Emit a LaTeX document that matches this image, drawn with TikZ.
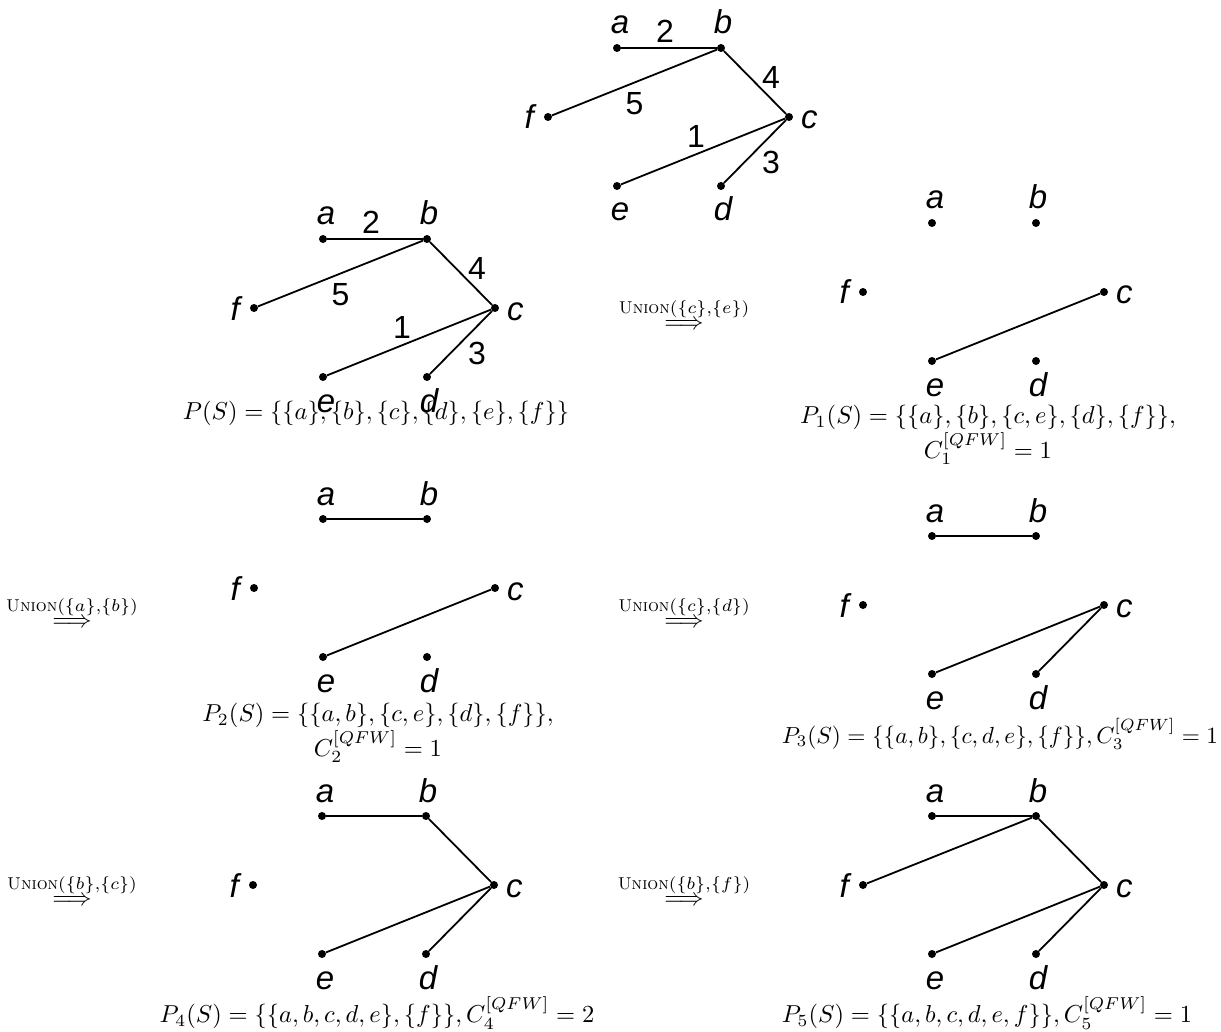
\documentclass[tikz,border=0pt]{standalone}
\usepackage{amsmath}
\usepackage{fontspec}
\setsansfont{Liberation Sans}
\tikzset{
  vtx/.style={circle, fill=black, inner sep=0pt, minimum size=8pt},
  vlab/.style={font=\fontsize{33}{37}\selectfont\sffamily\itshape, inner sep=0pt},
  wlab/.style={font=\fontsize{32}{36}\selectfont\sffamily, inner sep=0pt},
  edgeline/.style={line width=1.8pt},
  captext/.style={font=\fontsize{10}{11.3}\selectfont, inner sep=0pt, align=center, scale=2.45, transform shape},
  unionlab/.style={font=\normalsize, inner sep=0pt, scale=2.45, transform shape}
}
\newcommand\gverts[3]{%
  \node[vtx] (#1a) at (#2,#3) {};
  \node[vtx] (#1b) at (#2+104,#3) {};
  \node[vtx] (#1f) at (#2-69,#3+69) {};
  \node[vtx] (#1c) at (#2+172,#3+69) {};
  \node[vtx] (#1e) at (#2,#3+138) {};
  \node[vtx] (#1d) at (#2+104,#3+138) {};
  \node[vlab, anchor=base] (#1la) at ([xshift=3pt, yshift=14pt]#1a.center) {a};
  \node[vlab, anchor=base] (#1lb) at ([xshift=2pt, yshift=14pt]#1b.center) {b};
  \node[vlab, anchor=base] (#1le) at ([xshift=3pt, yshift=-35pt]#1e.center) {e};
  \node[vlab, anchor=base] (#1ld) at ([xshift=2pt, yshift=-35pt]#1d.center) {d};
  \node[vlab, anchor=base east] (#1lf) at ([xshift=-14pt, yshift=-12pt]#1f.center) {f};
  \node[vlab, anchor=base west] (#1lc) at ([xshift=12pt, yshift=-12pt]#1c.center) {c};
}
\newcommand\gweighted[1]{%
  \draw[edgeline] (#1a) -- node[wlab, midway, xshift=-4pt, yshift=17pt] (#1w2) {2} (#1b);
  \draw[edgeline] (#1b) -- node[wlab, midway, xshift=16pt, yshift=5.5pt] (#1w4) {4} (#1c);
  \draw[edgeline] (#1f) -- node[wlab, midway, xshift=0pt, yshift=-21.5pt] (#1w5) {5} (#1b);
  \draw[edgeline] (#1e) -- node[wlab, midway, xshift=-7pt, yshift=15.5pt] (#1w1) {1} (#1c);
  \draw[edgeline] (#1c) -- node[wlab, midway, xshift=16pt, yshift=-10.5pt] (#1w3) {3} (#1d);
}
\begin{document}
\begin{tikzpicture}[x=1pt, y=-1pt]
\useasboundingbox (0,0) rectangle (1221,1032);

% top graph
\gverts{g0}{617}{48}
\gweighted{g0}

% P(S)
\gverts{g1}{323}{239}
\gweighted{g1}
\node[captext] (cap0) at (376,413) {$P(S)=\{\{a\},\{b\},\{c\},\{d\},\{e\},\{f\}\}$};

% P1
\gverts{g2}{932}{223}
\draw[edgeline] (g2e) -- (g2c);
\node[captext] (cap1) at (988,435) {$P_1(S)=\{\{a\},\{b\},\{c,e\},\{d\},\{f\}\},$\\$C_1^{[QFW]}=1$};
\node[unionlab] (u1) at (684,314) {$\overset{\textsc{Union}(\{c\},\{e\})}{\Longrightarrow}$};

% P2
\gverts{g3}{323}{519}
\draw[edgeline] (g3a) -- (g3b);
\draw[edgeline] (g3e) -- (g3c);
\node[captext] (cap2) at (378,733) {$P_2(S)=\{\{a,b\},\{c,e\},\{d\},\{f\}\},$\\$C_2^{[QFW]}=1$};
\node[unionlab] (u2) at (72,612) {$\overset{\textsc{Union}(\{a\},\{b\})}{\Longrightarrow}$};

% P3
\gverts{g4}{932}{536}
\draw[edgeline] (g4a) -- (g4b);
\draw[edgeline] (g4e) -- (g4c);
\draw[edgeline] (g4d) -- (g4c);
\node[captext, scale=0.95] (cap3) at (1000,734) {$P_3(S)=\{\{a,b\},\{c,d,e\},\{f\}\},C_3^{[QFW]}=1$};
\node[unionlab] (u3) at (684,612) {$\overset{\textsc{Union}(\{c\},\{d\})}{\Longrightarrow}$};

% P4
\gverts{g5}{322}{816}
\draw[edgeline] (g5a) -- (g5b);
\draw[edgeline] (g5b) -- (g5c);
\draw[edgeline] (g5e) -- (g5c);
\draw[edgeline] (g5d) -- (g5c);
\node[captext] (cap4) at (377,1013) {$P_4(S)=\{\{a,b,c,d,e\},\{f\}\},C_4^{[QFW]}=2$};
\node[unionlab] (u4) at (72,890) {$\overset{\textsc{Union}(\{b\},\{c\})}{\Longrightarrow}$};

% P5
\gverts{g6}{932}{816}
\draw[edgeline] (g6a) -- (g6b);
\draw[edgeline] (g6f) -- (g6b);
\draw[edgeline] (g6b) -- (g6c);
\draw[edgeline] (g6e) -- (g6c);
\draw[edgeline] (g6d) -- (g6c);
\node[captext] (cap5) at (987,1013) {$P_5(S)=\{\{a,b,c,d,e,f\}\},C_5^{[QFW]}=1$};
\node[unionlab] (u5) at (684,890) {$\overset{\textsc{Union}(\{b\},\{f\})}{\Longrightarrow}$};
\end{tikzpicture}
\end{document}
